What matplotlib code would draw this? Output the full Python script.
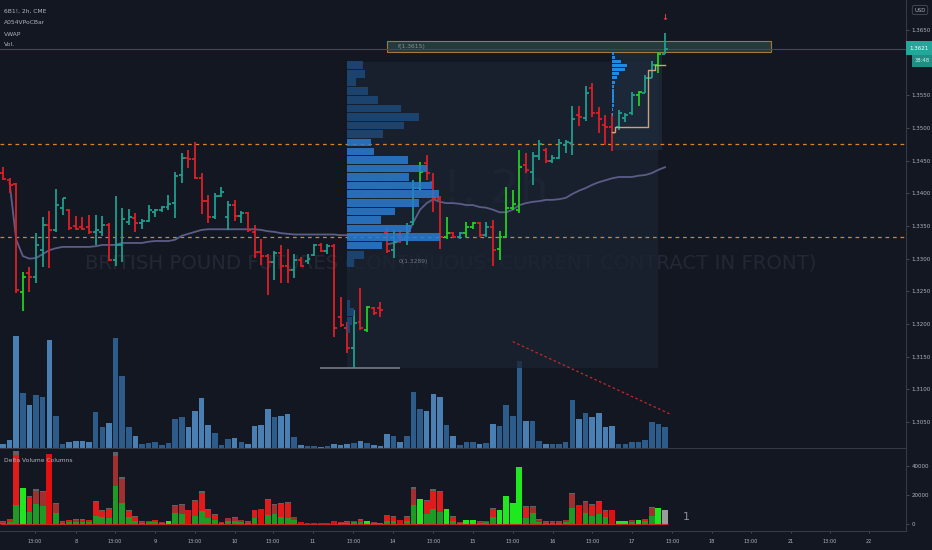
import numpy as np
import matplotlib
matplotlib.use("Agg")
import matplotlib.pyplot as plt
from matplotlib.patches import Rectangle

plt.rcParams["font.family"] = ["DejaVu Sans"]

# 6B1! 2h bars, oldest first
opens = [
    1.3431, 1.3420, 1.3414, 1.3249, 1.3278, 1.3272, 1.3313, 1.3352, 1.3344, 1.3378,
    1.3375, 1.3350, 1.3349, 1.3349, 1.3341, 1.3341, 1.3352, 1.3298, 1.3321, 1.3356,
    1.3362, 1.3355, 1.3358, 1.3371, 1.3375, 1.3379, 1.3385, 1.3428, 1.3454, 1.3453,
    1.3423, 1.3388, 1.3364, 1.3396, 1.3364, 1.3382, 1.3365, 1.3370, 1.3341, 1.3310,
    1.3304, 1.3295, 1.3309, 1.3289, 1.3283, 1.3298, 1.3296, 1.3306, 1.3321, 1.3312,
    1.3319, 1.3211, 1.3194, 1.3163, 1.3203, 1.3191, 1.3224, 1.3224, 1.3339, 1.3313,
    1.3336, 1.3329, 1.3356, 1.3408, 1.3446, 1.3417, 1.3391, 1.3333, 1.3339, 1.3333,
    1.3339, 1.3349, 1.3355, 1.3336, 1.3349, 1.3315, 1.3333, 1.3378, 1.3375, 1.3443,
    1.3433, 1.3457, 1.3466, 1.3450, 1.3454, 1.3474, 1.3477, 1.3520, 1.3515, 1.3561,
    1.3523, 1.3505, 1.3502, 1.3502, 1.3515, 1.3523, 1.3551, 1.3554, 1.3577, 1.3596,
    1.3613]
highs = [
    1.3440, 1.3423, 1.3416, 1.3280, 1.3287, 1.3339, 1.3364, 1.3373, 1.3407, 1.3393,
    1.3376, 1.3365, 1.3364, 1.3367, 1.3367, 1.3365, 1.3354, 1.3396, 1.3378, 1.3376,
    1.3370, 1.3361, 1.3382, 1.3376, 1.3381, 1.3397, 1.3433, 1.3462, 1.3466, 1.3479,
    1.3431, 1.3397, 1.3401, 1.3410, 1.3388, 1.3390, 1.3373, 1.3371, 1.3352, 1.3330,
    1.3307, 1.3312, 1.3321, 1.3315, 1.3307, 1.3303, 1.3307, 1.3322, 1.3324, 1.3322,
    1.3322, 1.3241, 1.3203, 1.3221, 1.3255, 1.3228, 1.3226, 1.3234, 1.3347, 1.3344,
    1.3344, 1.3355, 1.3420, 1.3448, 1.3459, 1.3431, 1.3396, 1.3364, 1.3341, 1.3341,
    1.3356, 1.3356, 1.3356, 1.3356, 1.3359, 1.3342, 1.3410, 1.3405, 1.3466, 1.3462,
    1.3463, 1.3482, 1.3469, 1.3459, 1.3483, 1.3482, 1.3534, 1.3534, 1.3564, 1.3569,
    1.3532, 1.3520, 1.3523, 1.3528, 1.3523, 1.3555, 1.3557, 1.3581, 1.3603, 1.3616,
    1.3645]
lows = [
    1.3420, 1.3400, 1.3247, 1.3220, 1.3249, 1.3263, 1.3287, 1.3286, 1.3341, 1.3367,
    1.3344, 1.3344, 1.3344, 1.3338, 1.3321, 1.3335, 1.3297, 1.3289, 1.3295, 1.3352,
    1.3341, 1.3345, 1.3356, 1.3364, 1.3371, 1.3375, 1.3362, 1.3416, 1.3439, 1.3422,
    1.3368, 1.3355, 1.3361, 1.3394, 1.3344, 1.3358, 1.3355, 1.3341, 1.3301, 1.3290,
    1.3244, 1.3267, 1.3263, 1.3263, 1.3270, 1.3287, 1.3292, 1.3304, 1.3310, 1.3307,
    1.3180, 1.3195, 1.3156, 1.3133, 1.3191, 1.3188, 1.3214, 1.3211, 1.3309, 1.3301,
    1.3324, 1.3321, 1.3352, 1.3405, 1.3420, 1.3371, 1.3315, 1.3330, 1.3332, 1.3330,
    1.3333, 1.3345, 1.3333, 1.3333, 1.3289, 1.3298, 1.3333, 1.3375, 1.3370, 1.3431,
    1.3413, 1.3451, 1.3446, 1.3446, 1.3453, 1.3462, 1.3459, 1.3503, 1.3511, 1.3517,
    1.3492, 1.3474, 1.3465, 1.3497, 1.3509, 1.3520, 1.3534, 1.3554, 1.3577, 1.3584,
    1.3613]
closes = [
    1.3422, 1.3413, 1.3252, 1.3272, 1.3272, 1.3321, 1.3352, 1.3344, 1.3382, 1.3393,
    1.3347, 1.3345, 1.3345, 1.3341, 1.3344, 1.3352, 1.3298, 1.3321, 1.3361, 1.3364,
    1.3355, 1.3358, 1.3375, 1.3375, 1.3379, 1.3384, 1.3427, 1.3454, 1.3453, 1.3423,
    1.3388, 1.3364, 1.3396, 1.3402, 1.3382, 1.3365, 1.3370, 1.3344, 1.3310, 1.3304,
    1.3295, 1.3309, 1.3289, 1.3283, 1.3298, 1.3289, 1.3300, 1.3321, 1.3312, 1.3319,
    1.3194, 1.3198, 1.3163, 1.3202, 1.3194, 1.3226, 1.3217, 1.3221, 1.3312, 1.3326,
    1.3329, 1.3350, 1.3408, 1.3433, 1.3431, 1.3393, 1.3333, 1.3339, 1.3333, 1.3339,
    1.3349, 1.3355, 1.3336, 1.3349, 1.3313, 1.3333, 1.3378, 1.3384, 1.3440, 1.3436,
    1.3457, 1.3476, 1.3450, 1.3454, 1.3477, 1.3479, 1.3514, 1.3517, 1.3554, 1.3523,
    1.3514, 1.3502, 1.3492, 1.3523, 1.3520, 1.3551, 1.3555, 1.3577, 1.3596, 1.3613,
    1.3621]
volume = [
    1800, 3600, 50400, 24750, 19350, 23850, 22950, 48600, 14400, 1800,
    2700, 3150, 3150, 2700, 16200, 9450, 11250, 49500, 32400, 9450,
    5400, 1800, 2250, 2700, 1350, 2250, 13050, 13950, 9450, 16650,
    22500, 10350, 6750, 1350, 4050, 4500, 2700, 1800, 9900, 10350,
    17550, 13950, 14400, 15300, 4950, 1350, 900, 900, 450, 900,
    1800, 1350, 1800, 2250, 3150, 2250, 1350, 900, 6300, 5400,
    2700, 5400, 25200, 17550, 16650, 24300, 22950, 10350, 5400, 1350,
    2700, 2700, 1800, 2250, 10800, 9900, 19350, 14400, 39150, 12150,
    12150, 3150, 1800, 1800, 1800, 2700, 21600, 13050, 15750, 13950,
    15750, 9450, 9900, 1800, 1800, 2700, 2700, 3600, 11700, 10800,
    9450]
nan = float("nan")
vwap = [
    nan, 1.3416, 1.3329, 1.3304, 1.3300, 1.3301, 1.3307, 1.3313, 1.3316, 1.3318,
    1.3318, 1.3318, 1.3318, 1.3318, 1.3319, 1.3321, 1.3321, 1.3321, 1.3324, 1.3324,
    1.3324, 1.3324, 1.3326, 1.3327, 1.3327, 1.3327, 1.3329, 1.3335, 1.3338, 1.3341,
    1.3344, 1.3345, 1.3345, 1.3345, 1.3345, 1.3345, 1.3345, 1.3345, 1.3345, 1.3344,
    1.3342, 1.3341, 1.3339, 1.3338, 1.3337, 1.3337, 1.3337, 1.3337, 1.3337, 1.3337,
    1.3337, 1.3336, 1.3336, 1.3336, 1.3336, 1.3336, 1.3336, 1.3336, 1.3322, 1.3324,
    1.3327, 1.3335, 1.3356, 1.3375, 1.3385, 1.3391, 1.3387, 1.3385, 1.3385, 1.3384,
    1.3382, 1.3382, 1.3379, 1.3378, 1.3375, 1.3371, 1.3371, 1.3375, 1.3382, 1.3385,
    1.3387, 1.3388, 1.3390, 1.3390, 1.3391, 1.3393, 1.3399, 1.3404, 1.3408, 1.3413,
    1.3417, 1.3420, 1.3423, 1.3425, 1.3425, 1.3425, 1.3427, 1.3428, 1.3431, 1.3436,
    1.3440]
week_start = 58

# bars flagged by the VPoC bar indicator (bright green)
vpoc_bars = [3, 55, 63, 67, 70, 71, 75, 76, 77, 78, 96, 99]

# delta volume columns: m = mixed, r = mixed with strong sell, G/R = one sided, N = open bar
dv_kind = ("mrrGrmmRmm" "rmrrrrrmmr" "rmmrmGmmRr" "rrrmmmmmrR" "rmrrmRRRRR"
           "Rmmmr GmmrrRrmGrrrGrmGGmmrGGGGrmmmmmmmRmrrrRGGmGrmGN").replace(" ", "")
dv_buy = [
    .50, .40, .26, 1, .44, .57, .53, 0, .55, .50,
    .40, .50, .45, .45, .35, .48, .35, .53, .45, .52,
    .40, .50, .50, .45, .50, 1, .60, .48, 0, .35,
    .41, .40, .43, .50, .50, .50, .50, .50, .43, 0,
    .37, .48, .34, .29, .55, 0, 0, 0, 0, 0,
    0, .50, .50, .50, .40, 1, .50, .50, .32, .40,
    0, .40, .53, 1, .41, .42, .36, 1, .40, .50,
    1, 1, .50, .50, .47, 1, 1, 1, 1, .35,
    .60, .50, .50, .50, .50, .50, .50, 0, .48, .41,
    .46, .53, 0, 1, 1, .50, 1, .50, .50, 1,
    0]

# fixed range volume profile (left edge at bar 52)
vp_price = [1.3596, 1.3583, 1.3570, 1.3557, 1.3543, 1.3530, 1.3517, 1.3504, 1.3491, 1.3478,
            1.3464, 1.3451, 1.3438, 1.3425, 1.3412, 1.3399, 1.3385, 1.3372, 1.3359, 1.3346,
            1.3333, 1.3320, 1.3306, 1.3293, 1.3231, 1.3218, 1.3205, 1.3192]
vp_size = [16, 18, 9, 21, 31, 54, 72, 57, 36, 24, 27, 61, 80, 62, 85, 92, 72, 48, 34, 64,
           93, 35, 17, 7, 3, 7, 5, 3]
vp_value_area = range(9, 22)

# session profile of the last session
sp_price = [1.3614, 1.3608, 1.3602, 1.3596, 1.3590, 1.3583, 1.3577, 1.3570,
            1.3564, 1.3558, 1.3552, 1.3546, 1.3540, 1.3534, 1.3528, 1.3521]
sp_size = [2, 3, 9, 15, 13, 7, 5, 3, 2, 2, 1.5, 1.5, 1.5, 1.5, 1, 1]
dev_poc = [1.3494, 1.3502, 1.3502, 1.3502, 1.3502, 1.3501, 1.3589, 1.3596, 1.3596]

levels = [1.3476, 1.3333]
last_price = 1.3621
trend_x = [77.0, 100.8]
trend_p = [1.3173, 1.3062]

tick_pos = [4.8, 11.0, 16.9, 23.0, 29.0, 35.0, 40.8, 46.8, 52.9, 58.9, 65.0,
            71.0, 77.0, 83.1, 89.0, 95.0, 101.1, 107.1, 113.0, 119.0, 124.9, 130.8]
tick_lab = ["13:00", "8", "13:00", "9", "13:00", "10", "13:00", "11", "13:00", "14", "13:00",
            "15", "13:00", "16", "13:00", "17", "13:00", "18", "13:00", "21", "13:00", "22"]

BG = "#131722"
TXT = "#b2b5be"
LINE = "#363a45"
TEAL = "#1f9e8e"
RED = "#dc1f26"
LIME = "#22cf22"
WM = "#232733"

W, H = 932, 550
fig = plt.figure(figsize=(W / 100, H / 100), dpi=100, facecolor=BG)


def box(x0, y0, x1, y1):
    return [x0 / W, 1 - y1 / H, (x1 - x0) / W, (y1 - y0) / H]


x = np.arange(len(closes))
o, hi, lo, c = map(np.array, (opens, highs, lows, closes))
vol = np.array(volume, dtype=float)
up = c >= o
xlim = (-0.45, 136.4)

# volume overlay
axv = fig.add_axes(box(0, 0, 906, 448))
axv.set_facecolor(BG)
axv.bar(x, vol, width=0.84, color=np.where(up, "#2d5c8b", "#4a7fb4"))
axv.set_xlim(xlim)
axv.set_ylim(0, 448 * 450)
axv.axis("off")

# price pane
ax = fig.add_axes(box(0, 0, 906, 448))
ax.set_facecolor("none")
ax.set_xlim(xlim)
ax.set_ylim(1.30102, 1.36959)

ax.text(0.498, 1 - 190 / 448, "6B1!, 2h", transform=ax.transAxes, ha="center", va="center",
        fontsize=33, color=WM, zorder=0.1)
ax.text(0.498, 1 - 263 / 448, "BRITISH POUND FUTURES (CONTINUOUS: CURRENT CONTRACT IN FRONT)",
        transform=ax.transAxes, ha="center", va="center", fontsize=14.2, color=WM, zorder=0.1)

ax.add_patch(Rectangle((51.96, 1.3133), 46.98, 1.3601 - 1.3133, facecolor="#1a2433",
                       alpha=0.75, edgecolor="none", zorder=0.2))
ax.add_patch(Rectangle((92.0, 1.3466), 7.5, 1.3616 - 1.3466, facecolor="#1e2a3b",
                       alpha=0.8, edgecolor="none", zorder=0.3))
ax.add_patch(Rectangle((58.0, 1.36163), 58.0, 1.36331 - 1.36163, facecolor="#26393b",
                       edgecolor="#a3783a", lw=0.8, zorder=1))
ax.text(59.7, 1.36247, "f(1.3615)", fontsize=4.3, color="#8a8f99", va="center", zorder=1.1)
ax.text(59.7, 1.3295, "0(1.3289)", fontsize=4.3, color="#6f737d", va="center", zorder=1.1)

for lv in levels:
    ax.axhline(lv, color="#d9822b", lw=0.9, ls=(0, (3, 3)), zorder=1)
ax.axhline(last_price, color="#1c5c57", lw=0.8, zorder=1)
ax.hlines(1.3133, 47.9, 60.0, color="#6f727c", lw=1.3, zorder=1)
ax.plot(trend_x, trend_p, color="#c62828", lw=0.9, ls=(0, (2, 2)), zorder=1)

ax.plot(x[:week_start], vwap[:week_start], color="#5b5d86", lw=1.3, zorder=2)
ax.plot(x[week_start:], vwap[week_start:], color="#5b5d86", lw=1.3, zorder=2)

cols = [LIME if i in vpoc_bars else (TEAL if up[i] else RED) for i in x]
ax.vlines(x, lo, hi, colors=cols, lw=1.3, zorder=3)
ax.hlines(o, x - 0.45, x, colors=cols, lw=1.3, zorder=3)
ax.hlines(c, x, x + 0.45, colors=cols, lw=1.3, zorder=3)

vp_col = ["#2a7bd0" if k in vp_value_area else "#1d4a7a" for k in range(len(vp_price))]
ax.barh(vp_price, np.array(vp_size) / 6.62, height=0.00118, left=51.96, color=vp_col,
        alpha=0.85, zorder=4)
ax.barh(sp_price, np.array(sp_size) / 6.62, height=0.00048, left=92.0, color="#2196f3",
        alpha=0.9, zorder=4)
ax.plot(np.arange(92, 101), dev_poc, drawstyle="steps-mid", color="#c9a37a", lw=1.0, zorder=4)

ax.text(100, 1.3669, "\u2193", color="#f23645", fontsize=6, ha="center", va="center",
        fontweight="bold")

ax.yaxis.tick_right()
ax.set_yticks([1.305, 1.31, 1.315, 1.32, 1.325, 1.33, 1.335, 1.34, 1.345, 1.35, 1.355, 1.365])
ax.set_yticklabels([f"{v:.4f}" for v in ax.get_yticks()])
ax.tick_params(axis="y", colors="#50535e", labelcolor=TXT, labelsize=4, length=2.5,
               width=0.6, pad=1.5)
ax.tick_params(axis="x", bottom=False, labelbottom=False)
for s in ("top", "left"):
    ax.spines[s].set_visible(False)
for s in ("right", "bottom"):
    ax.spines[s].set_color(LINE)

# delta volume pane
axd = fig.add_axes(box(0, 449, 906, 531))
axd.set_facecolor(BG)
axd.set_xlim(xlim)
axd.set_ylim(-(531 - 524) * 690, (524 - 449) * 690)
kind = np.array(list(dv_kind))
buy = np.array(dv_buy)
mixed = (kind == "m") | (kind == "r")
bw = 0.88
axd.bar(x[mixed], vol[mixed], width=bw, color="#5e6168")
axd.bar(x[mixed], vol[mixed] * 0.95, width=bw,
        color=np.where(kind[mixed] == "r", "#e01b1b", "#a02f2f"))
axd.bar(x[mixed], vol[mixed] * buy[mixed], width=bw, color="#1f9a25")
for k, col in (("G", "#1fe81f"), ("R", "#e01010"), ("N", "#9c9c9c")):
    sel = kind == k
    axd.bar(x[sel], vol[sel], width=bw, color=col)
axd.hlines(0, -0.5, x[-1] + 0.5, color="#c62828", lw=0.8, zorder=3)

axd.yaxis.tick_right()
axd.set_yticks([0, 20000, 40000])
axd.set_yticklabels(["0", "20000", "40000"])
axd.set_xticks(tick_pos)
axd.set_xticklabels(tick_lab)
axd.tick_params(axis="y", colors="#50535e", labelcolor=TXT, labelsize=4, length=2.5,
                width=0.6, pad=1.5)
axd.tick_params(axis="x", colors="#50535e", labelcolor=TXT, labelsize=3.6, length=1.5,
                width=0.6, pad=4)
for s in ("top", "left"):
    axd.spines[s].set_visible(False)
for s in ("right", "bottom"):
    axd.spines[s].set_color(LINE)
axd.text(4 / 906, 1 - 11 / 82, "Delta Volume Columns", transform=axd.transAxes,
         fontsize=4.3, color=TXT, va="center")
fig.text(683 / W, 1 - 517 / H, "1", fontsize=8, color="#8c8f98", va="center")

# legend
for yy, t in ((11, "6B1!, 2h, CME"), (23, "A054VPoCBar"), (34, "VWAP"), (45, "Vol.")):
    fig.text(4 / W, 1 - yy / H, t, fontsize=4.3, color=TXT, va="center")

# price scale badges
fig.add_artist(Rectangle((906 / W, 1 - 55 / H), 26 / W, 14 / H, transform=fig.transFigure,
                         facecolor="#26a69a", edgecolor="none"))
fig.text(919 / W, 1 - 48 / H, "1.3621", fontsize=4, color="white", ha="center", va="center")
fig.add_artist(Rectangle((912 / W, 1 - 67 / H), 20 / W, 12 / H, transform=fig.transFigure,
                         facecolor="#1f8f84", edgecolor="none"))
fig.text(922 / W, 1 - 61 / H, "38:48", fontsize=3.8, color="#d8f0ec", ha="center", va="center")
fig.text(920 / W, 1 - 10 / H, "USD", fontsize=3.8, color=TXT, ha="center", va="center",
         bbox=dict(boxstyle="round,pad=0.4", facecolor=BG, edgecolor="#4a4e59", lw=0.6))

fig.savefig("out.png", dpi=100, facecolor=BG)
